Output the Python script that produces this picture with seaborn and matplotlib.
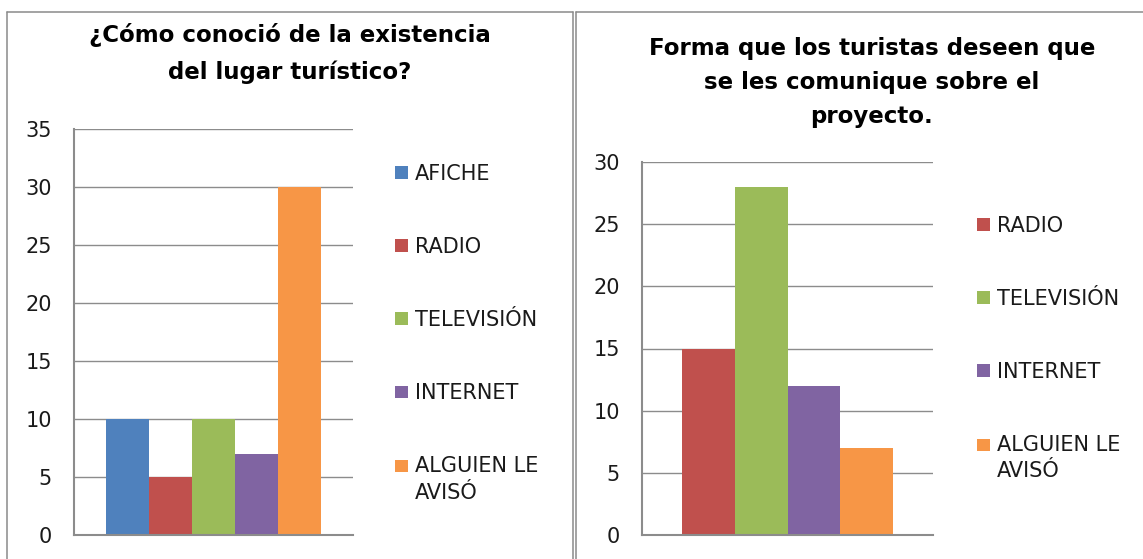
import matplotlib
matplotlib.use("Agg")
import matplotlib.pyplot as plt
import seaborn as sns
import pandas as pd
from matplotlib.patches import Rectangle, Patch
from matplotlib.legend_handler import HandlerPatch
from matplotlib.lines import Line2D

# ---------------- data ----------------
left_title_lines = ["¿Cómo conoció de la existencia", "del lugar turístico?"]
left_categories = ["AFICHE", "RADIO", "TELEVISIÓN", "INTERNET", "ALGUIEN LE\nAVISÓ"]
left_values = [10, 5, 10, 7, 30]
left_colors = ["#4F81BD", "#C0504D", "#9BBB59", "#8064A2", "#F79646"]
left_yticks = [0, 5, 10, 15, 20, 25, 30, 35]

right_title_lines = ["Forma que los turistas deseen que", "se les comunique sobre el", "proyecto."]
right_categories = ["RADIO", "TELEVISIÓN", "INTERNET", "ALGUIEN LE\nAVISÓ"]
right_values = [15, 28, 12, 7]
right_colors = ["#C0504D", "#9BBB59", "#8064A2", "#F79646"]
right_yticks = [0, 5, 10, 15, 20, 25, 30]

# ---------------- style ----------------
sns.set_style("white")
plt.rcParams["font.family"] = ["DejaVu Sans"]
GRID = "#8c8c8c"
BORDER = "#8a8a8a"
TXT = "#1a1a1a"
FS = 15

W, H = 1143, 559
fig = plt.figure(figsize=(W / 100, H / 100), dpi=100)
fig.patch.set_facecolor("white")


def px_box(x0, y0, x1, y1):
    return [x0 / W, 1 - y1 / H, (x1 - x0) / W, (y1 - y0) / H]


class SquareHandler(HandlerPatch):
    def __init__(self, size, lift=0.0):
        super().__init__()
        self.size = size
        self.lift = lift

    def create_artists(self, legend, orig_handle, xdescent, ydescent,
                       width, height, fontsize, trans):
        s = self.size * fontsize
        cy = (0.365 + self.lift) * fontsize
        p = Rectangle((-xdescent, cy - s / 2), s, s,
                      facecolor=orig_handle.get_facecolor(),
                      edgecolor="none", transform=trans)
        return [p]


def draw_panel(ax, cats, vals, colors, yticks, width, leg_xy):
    df = pd.DataFrame({"grupo": [""] * len(cats), "categoria": cats, "valor": vals})
    sns.barplot(data=df, x="grupo", y="valor", hue="categoria", hue_order=cats,
                palette=colors, width=width, saturation=1, dodge=True,
                legend=False, errorbar=None, linewidth=0, ax=ax)
    ax.set_xlim(-0.5, 0.5)
    ax.set_ylim(0, yticks[-1])
    ax.set_yticks(yticks)
    ax.set_xticks([])
    ax.set_xlabel("")
    ax.set_ylabel("")
    ax.yaxis.grid(True, color=GRID, lw=1.0)
    ax.xaxis.grid(False)
    ax.set_axisbelow(True)
    for s in ["top", "right"]:
        ax.spines[s].set_visible(False)
    for s in ["left", "bottom"]:
        ax.spines[s].set_color(GRID)
        ax.spines[s].set_linewidth(1.5)
        ax.spines[s].set_zorder(5)
    ax.tick_params(axis="y", length=0, pad=16, labelsize=FS, labelcolor=TXT)
    ax.set_facecolor("none")

    handles = [Patch(facecolor=c) for c in colors]
    hmap = {}
    for h, c in zip(handles, cats):
        hmap[h] = SquareHandler(0.6, 0.66 if "\n" in c else 0.0)
    leg = ax.legend(handles, cats, loc="upper left",
                    bbox_to_anchor=(leg_xy[0] / W, 1 - leg_xy[1] / H),
                    bbox_transform=fig.transFigure, frameon=False,
                    borderpad=0, borderaxespad=0, handlelength=0.6,
                    handleheight=0.6, handletextpad=0.35, labelspacing=2.55,
                    fontsize=FS, handler_map=hmap)
    for t, c in zip(leg.get_texts(), cats):
        t.set_color(TXT)
        if "\n" in c:
            t.set_linespacing(1.38)


ax1 = fig.add_axes(px_box(74, 129, 353, 535))
draw_panel(ax1, left_categories, left_values, left_colors, left_yticks, 0.77, (395, 164))

ax2 = fig.add_axes(px_box(642, 162, 933, 535))
draw_panel(ax2, right_categories, right_values, right_colors, right_yticks, 0.728, (977, 216))

# titles
for line, y in zip(left_title_lines, [35, 72]):
    fig.text(290 / W, 1 - y / H, line, ha="center", va="center",
             fontsize=16.5, fontweight="bold", color="black")
for line, y in zip(right_title_lines, [48, 82, 116]):
    fig.text(872 / W, 1 - y / H, line, ha="center", va="center",
             fontsize=16.5, fontweight="bold", color="black")

# panel borders
def fig_line(xs, ys):
    fig.add_artist(Line2D([x / W for x in xs], [1 - y / H for y in ys],
                          color=BORDER, lw=1.1, transform=fig.transFigure))

fig_line([7, 7], [12, 560])
fig_line([7, 572.5], [12, 12])
fig_line([572.5, 572.5], [12, 560])
fig_line([575.5, 575.5], [12, 560])
fig_line([575.5, 1144], [12, 12])

fig.savefig("out.png", dpi=100, facecolor="white")
